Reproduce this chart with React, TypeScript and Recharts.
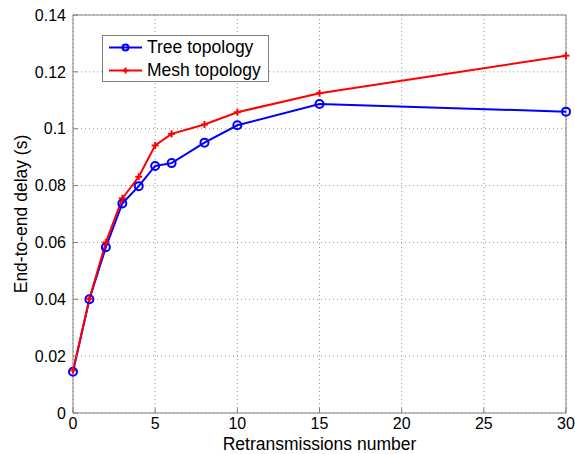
import { CartesianGrid, Legend, Line, LineChart, ReferenceLine, XAxis, YAxis } from "recharts";

// values
const retransmissions = [0, 1, 2, 3, 4, 5, 6, 8, 10, 15, 30];
const treeDelay = [0.0145, 0.04, 0.0583, 0.0737, 0.0798, 0.0869, 0.0879, 0.0951, 0.1012, 0.1087, 0.106];
const meshDelay = [0.015, 0.0402, 0.06, 0.0755, 0.0831, 0.0941, 0.0982, 0.1015, 0.1058, 0.1125, 0.1257];
const xTicks = [0, 5, 10, 15, 20, 25, 30];
const yTicks = [0, 0.02, 0.04, 0.06, 0.08, 0.1, 0.12, 0.14];

const data = retransmissions.map((x, i) => ({
  x,
  tree: treeDelay[i],
  mesh: meshDelay[i],
}));

const font = "'Liberation Sans', Arial, sans-serif";
const axisColor = "#808080";

function PlusDot(props: any) {
  const { cx, cy } = props;
  if (cx == null || cy == null) return null;
  const s = 3.5;
  return (
    <g>
      <line x1={cx - s} y1={cy} x2={cx + s} y2={cy} stroke="#ff0000" strokeWidth={2} />
      <line x1={cx} y1={cy - s} x2={cx} y2={cy + s} stroke="#ff0000" strokeWidth={2} />
    </g>
  );
}

function LegendBox() {
  const rows = [
    { label: "Tree topology", color: "#0000ff", marker: "circle" },
    { label: "Mesh topology", color: "#ff0000", marker: "plus" },
  ];
  return (
    <div
      style={{
        border: "1px solid #808080",
        background: "#fff",
        width: 167,
        height: 47,
        boxSizing: "border-box",
        fontFamily: font,
        fontSize: 17.5,
        color: "#000",
      }}
    >
      {rows.map((r, i) => (
        <div key={r.label} style={{ display: "flex", alignItems: "center", height: 23, marginTop: i === 0 ? 0 : 0 }}>
          <svg width={44} height={23} style={{ flexShrink: 0 }}>
            <line x1={6} y1={11.5} x2={39} y2={11.5} stroke={r.color} strokeWidth={2} />
            {r.marker === "circle" ? (
              <circle cx={22.5} cy={11.5} r={3} fill="none" stroke={r.color} strokeWidth={2} />
            ) : (
              <g>
                <line x1={19.5} y1={11.5} x2={25.5} y2={11.5} stroke={r.color} strokeWidth={2} />
                <line x1={22.5} y1={8.5} x2={22.5} y2={14.5} stroke={r.color} strokeWidth={2} />
              </g>
            )}
          </svg>
          <span style={{ whiteSpace: "nowrap" }}>{r.label}</span>
        </div>
      ))}
    </div>
  );
}

export default function App() {
  return (
    <div style={{ position: "absolute", left: 0, top: 0, background: "#fff" }}>
      <LineChart
        width={575}
        height={454}
        data={data}
        margin={{ top: 15, right: 9, bottom: 0, left: 0 }}
        style={{ fontFamily: font }}
      >
        <CartesianGrid stroke="#999" strokeDasharray="1 3" />
        <XAxis
          dataKey="x"
          type="number"
          domain={[0, 30]}
          ticks={xTicks}
          height={41}
          stroke={axisColor}
          tickSize={-5}
          tickMargin={10}
          tick={{ fill: "#000", fontSize: 16 }}
          label={{ value: "Retransmissions number", position: "insideBottom", offset: 4, fill: "#000", fontSize: 17.5 }}
        />
        <YAxis
          type="number"
          domain={[0, 0.14]}
          ticks={yTicks}
          width={73}
          stroke={axisColor}
          tickSize={-5}
          tickMargin={12}
          tick={{ fill: "#000", fontSize: 16 }}
          label={{
            value: "End-to-end delay (s)",
            angle: -90,
            position: "insideLeft",
            offset: 21,
            fill: "#000",
            fontSize: 17.5,
            style: { textAnchor: "middle" },
          }}
        />
        <ReferenceLine y={0.14} stroke={axisColor} />
        <ReferenceLine x={30} stroke={axisColor} />
        <Line
          dataKey="tree"
          name="Tree topology"
          stroke="#0000ff"
          strokeWidth={2}
          dot={{ r: 4, fill: "none", stroke: "#0000ff", strokeWidth: 2 }}
          isAnimationActive={false}
        />
        <Line
          dataKey="mesh"
          name="Mesh topology"
          stroke="#ff0000"
          strokeWidth={2}
          dot={<PlusDot />}
          isAnimationActive={false}
        />
        <Legend
          layout="vertical"
          align="center"
          verticalAlign="middle"
          content={() => <LegendBox />}
          wrapperStyle={{ position: "absolute", left: 102, top: 35, width: 167, height: 47 }}
        />
      </LineChart>
    </div>
  );
}
